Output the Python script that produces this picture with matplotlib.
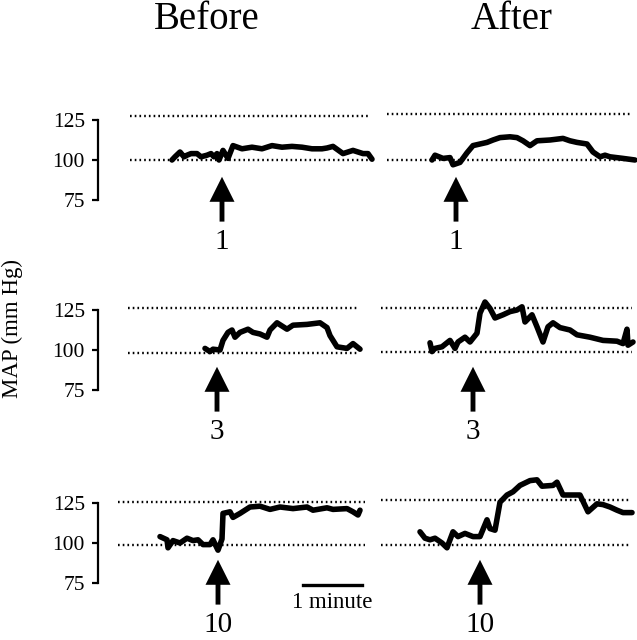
import matplotlib.pyplot as plt

plt.rcParams['font.family'] = ['Liberation Serif', 'DejaVu Serif']

# MAP traces (mm Hg), time in seconds from the left edge of each panel
before_1_t = [74, 77, 82, 86, 89, 93, 99, 103, 109, 113, 116, 119, 121, 125, 130, 135, 144, 154,
              164, 174, 184, 194, 204, 214, 224, 229, 235, 245, 250, 255, 265, 270, 274]
before_1_p = [100, 102, 105, 102, 103, 104, 104, 102, 103, 104, 102, 104, 100, 106, 101, 109, 107, 108,
              107, 109, 108, 108.5, 108, 107, 107, 107.5, 108.5, 104, 105, 106, 104, 104, 100.5]

after_1_t = [57, 60, 68, 75, 78, 85, 92, 98, 105, 112, 118, 125, 135, 142, 148, 155, 162, 175,
             188, 195, 202, 212, 218, 225, 230, 235, 248, 260]
after_1_p = [100, 103, 101, 101.5, 97, 98.5, 104.5, 109, 110, 111, 112.5, 114, 114.5, 114, 112, 109, 112, 112.5,
             113.5, 112, 111, 110, 105, 102, 103, 102, 101, 100]

before_3_t = [107, 112, 115, 122, 125, 130, 134, 137, 142, 150, 155, 162, 169, 172, 179, 189, 195,
              209, 222, 229, 232, 239, 249, 255, 262]
before_3_p = [101, 99, 100.5, 100, 106, 111, 112.5, 108, 111, 113, 111, 110, 108, 112.5, 117, 113, 115.5,
              116, 117, 114, 109, 102, 101, 104, 100.5]

after_3_t = [55, 57, 60, 67, 75, 80, 83, 90, 95, 102, 105, 110, 115, 120, 128, 135, 142, 147, 150,
             157, 162, 168, 173, 178, 185, 195, 202, 215, 228, 242, 248, 252, 253, 258]
after_3_p = [104.5, 99, 101, 102, 106, 101, 105, 108, 105, 110.5, 123, 130, 126, 120, 122, 124, 125, 127, 117.5,
             122, 114.5, 105, 114.5, 117, 114, 112.5, 109.5, 108, 106, 105.5, 104, 113, 103, 105]

before_10_t = [62, 69, 70, 75, 82, 89, 95, 100, 105, 112, 115, 120, 124, 125, 132, 135, 142, 152,
               162, 172, 182, 195, 209, 215, 229, 235, 249, 255, 260, 262]
before_10_p = [104, 102, 97, 101.5, 100, 103, 101.5, 102, 99, 99, 102, 95.5, 102.5, 118.5, 119.5, 116, 118.5, 122.5,
               123, 121, 122.5, 121.5, 122.5, 120.5, 122, 121, 121.5, 119.5, 117.5, 120.5]

after_10_t = [45, 50, 55, 60, 67, 72, 78, 83, 90, 98, 105, 112, 115, 120, 125, 132, 138, 145,
              155, 162, 167, 178, 182, 188, 205, 213, 222, 228, 235, 242, 248, 257]
after_10_p = [107, 103, 102, 103, 100, 97, 107, 104, 106, 104, 104, 114.5, 109, 108, 125.5, 130, 132, 136,
              139, 139.5, 135.5, 136, 138, 130, 130, 119.5, 124.5, 124, 122.5, 120.5, 119, 119]

doses = ['1', '3', '10']
before_inj = [124, 119, 120]
after_inj = [81, 98, 105]
upper_ref = [[127.5, 128.5], [126, 126], [125.5, 127]]
lower_ref = [[100, 100], [98, 98.7], [98.7, 98.7]]
ref_span = [[(32, 270), (12, 257)], [(30, 259), (6, 257)], [(20, 267), (6, 255)]]

traces = [[(before_1_t, before_1_p), (after_1_t, after_1_p)],
          [(before_3_t, before_3_p), (after_3_t, after_3_p)],
          [(before_10_t, before_10_p), (after_10_t, after_10_p)]]
injections = [[before_inj[i], after_inj[i]] for i in range(3)]

W, H = 637, 640
fig = plt.figure(figsize=(W / 100, H / 100), dpi=100)

row_y100 = [160, 350, 543]  # pixel row of 100 mm Hg
scale = 1.6  # pixels per mm Hg
col_px = [(98, 375), (375, 637)]
ylo, yhi = 40, 145

for r in range(3):
    top = row_y100[r] - (yhi - 100) * scale
    bot = row_y100[r] + (100 - ylo) * scale
    for c in range(2):
        x0, x1 = col_px[c]
        ax = fig.add_axes([x0 / W, 1 - bot / H, (x1 - x0) / W, (bot - top) / H])
        ax.set_xlim(0, x1 - x0)
        ax.set_ylim(ylo, yhi)
        ax.patch.set_alpha(0)
        for s in ['top', 'right', 'bottom']:
            ax.spines[s].set_visible(False)
        ax.set_xticks([])
        if c == 0:
            ax.spines['left'].set_bounds(75, 125)
            ax.spines['left'].set_linewidth(1.6)
            ax.set_yticks([75, 100, 125])
            ax.tick_params(axis='y', direction='out', length=4.5, width=1.6, pad=5, labelsize=15.5)
        else:
            ax.spines['left'].set_visible(False)
            ax.set_yticks([])

        xs, xe = ref_span[r][c]
        ax.plot([xs, xe], [upper_ref[r][c]] * 2, color='k', lw=1.7, linestyle=(0, (0.7, 1.3)))
        ax.plot([xs, xe], [lower_ref[r][c]] * 2, color='k', lw=1.7, linestyle=(0, (0.7, 1.3)))

        t, p = traces[r][c]
        ax.plot(t, p, color='k', lw=4.0, solid_joinstyle='round', solid_capstyle='round')

        inj = injections[r][c]
        tip = 89.5
        tail = tip - 28
        ax.annotate('', xy=(inj, tip), xytext=(inj, tail),
                    arrowprops=dict(facecolor='k', edgecolor='none', width=3.5,
                                    headwidth=18, headlength=18, shrink=0))
        ax.text(inj, tail - 13, doses[r], ha='center', va='center', fontsize=21)

        if r == 2 and c == 0:
            ax.plot([205, 264], [73.75, 73.75], color='k', lw=2.4)
            ax.text(234, 63, '1 minute', ha='center', va='center', fontsize=16.5)

fig.text(207 / W, 1 - 29 / H, 'Before', ha='center', va='baseline', fontsize=28)
fig.text(512 / W, 1 - 29 / H, 'After', ha='center', va='baseline', fontsize=28)
fig.text(12 / W, 1 - 328 / H, 'MAP (mm Hg)', rotation=90, ha='center', va='center', fontsize=16.5)

fig.savefig('out.png', dpi=100)
